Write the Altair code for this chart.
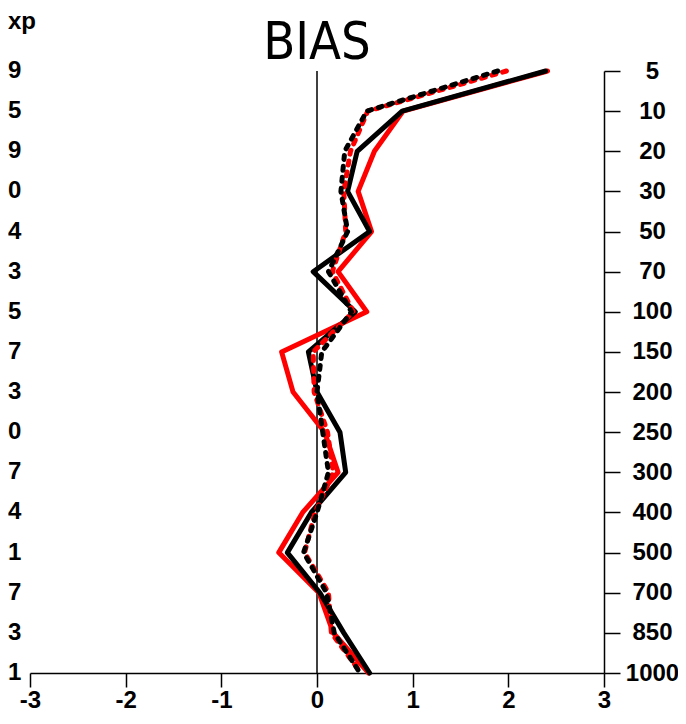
import altair as alt
import pandas as pd

levels = [5, 10, 20, 30, 50, 70, 100, 150, 200, 250, 300, 400, 500, 700, 850, 1000]

black_solid = [2.39, 0.89, 0.42, 0.32, 0.55, -0.04, 0.40, -0.09, 0.00, 0.24, 0.30, -0.06, -0.31, 0.03, 0.28, 0.55]
red_solid = [2.41, 0.90, 0.60, 0.43, 0.57, 0.22, 0.52, -0.37, -0.25, 0.08, 0.22, -0.15, -0.40, 0.02, 0.17, 0.54]
black_dashed = [1.89, 0.52, 0.29, 0.25, 0.32, 0.12, 0.36, 0.05, 0.00, 0.06, 0.12, 0.00, -0.14, 0.10, 0.18, 0.45]
red_dashed = [1.98, 0.53, 0.35, 0.28, 0.30, 0.16, 0.38, -0.04, -0.03, 0.11, 0.17, -0.02, -0.13, 0.12, 0.15, 0.46]

left_labels = ["9", "5", "9", "0", "4", "3", "5", "7", "3", "0", "7", "4", "1", "7", "3", "1"]
left_header = "xp"
title_text = "BIAS"
x_ticks = [-3, -2, -1, 0, 1, 2, 3]

FONT = "Liberation Sans, Arial, sans-serif"
TFONT = "DejaVu Sans Condensed, Liberation Sans, sans-serif"

rows = []
for name, vals in [("red_solid", red_solid), ("black_solid", black_solid),
                   ("red_dashed", red_dashed), ("black_dashed", black_dashed)]:
    for i, (lv, v) in enumerate(zip(levels, vals)):
        rows.append({"series": name, "level": str(lv), "value": v, "idx": i})
df = pd.DataFrame(rows)

ydef = alt.Y("level:O", sort=[str(l) for l in levels],
             scale=alt.Scale(type="point", padding=0),
             axis=alt.Axis(orient="right", title=None, tickSize=16, labelPadding=32,
                           labelAlign="center", labelBaseline="middle",
                           labelFont=FONT, labelFontSize=24, labelFontWeight="bold",
                           labelColor="black", domainColor="black", tickColor="black",
                           domainWidth=1.5, tickWidth=1.5))
xdef = alt.X("value:Q", scale=alt.Scale(domain=[-3, 3], nice=False, zero=False),
             axis=alt.Axis(values=x_ticks, labelExpr="'' + datum.value", title=None,
                           tickSize=14, labelPadding=1,
                           labelFont=FONT, labelFontSize=24, labelFontWeight="bold",
                           labelColor="black", domainColor="black", tickColor="black",
                           domainWidth=1.5, tickWidth=1.5, labelFlush=False))

base = alt.Chart(df)

def line(series, color, dashed):
    kw = dict(color=color, strokeWidth=5, strokeCap="round", strokeJoin="round")
    if dashed:
        kw["strokeDash"] = [4, 7]
    return base.transform_filter(alt.datum.series == series).mark_line(**kw).encode(
        x=xdef, y=ydef, order=alt.Order("idx:Q"))

zero_rule = alt.Chart(pd.DataFrame({"value": [0]})).mark_rule(color="black", strokeWidth=1.5).encode(
    x=xdef)

lab_df = pd.DataFrame({"level": [str(l) for l in levels], "lbl": left_labels})
left_text = alt.Chart(lab_df).mark_text(align="left", baseline="middle", font=FONT,
                                        fontSize=24, fontWeight="bold", color="black").encode(
    x=alt.value(-22), y=ydef, text="lbl:N")

hdr = alt.Chart(pd.DataFrame({"t": [left_header]})).mark_text(
    align="left", baseline="alphabetic", font=FONT, fontSize=24, fontWeight="bold",
    color="black").encode(x=alt.value(-22), y=alt.value(-42), text="t:N")

title = alt.Chart(pd.DataFrame({"t": [title_text]})).mark_text(
    align="center", baseline="alphabetic", font=TFONT, fontSize=52, fontWeight="normal",
    color="black").encode(x=alt.value(287), y=alt.value(-12), text="t:N")

chart = alt.layer(
    zero_rule,
    line("red_solid", "#ff0000", False),
    line("black_solid", "#000000", False),
    line("red_dashed", "#ff0000", True),
    line("black_dashed", "#000000", True),
    left_text, hdr, title,
).properties(
    width=574, height=602,
    padding={"left": 22, "top": 63, "right": 74, "bottom": 42},
    autosize=alt.AutoSizeParams(type="none"),
).configure_view(stroke=None).configure_axis(grid=False)

chart.save("out.html", embed_options={"renderer": "svg", "actions": False})
